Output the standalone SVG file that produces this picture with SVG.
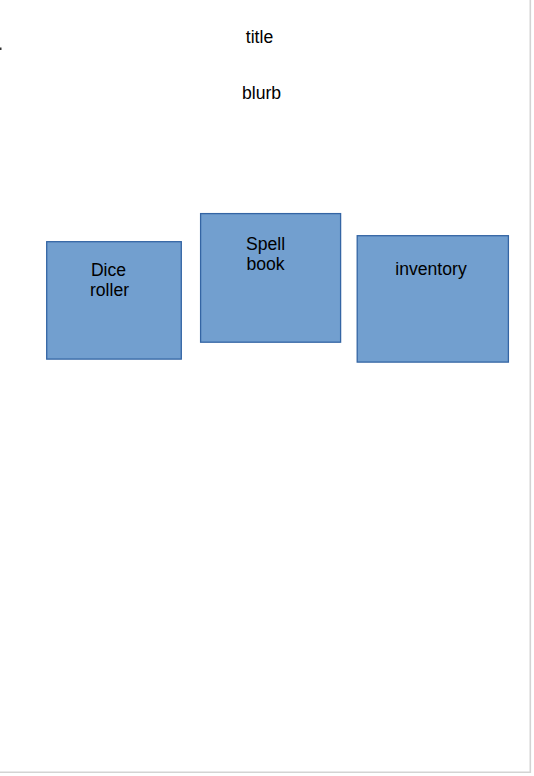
<svg xmlns="http://www.w3.org/2000/svg" width="534" height="776" viewBox="0 0 534 776">
<style>
.box{fill:#729fcf;stroke:#3465a4;stroke-width:1.3}
.t{font-family:"Liberation Sans",Arial,sans-serif;font-size:17.6px;fill:#000;text-anchor:middle}
</style>
<rect x="0" y="0" width="534" height="776" fill="#ffffff"/>
<path d="M530.3 0 V772.3 H0" fill="none" stroke="#d3d3d3" stroke-width="1.6"/>
<rect x="0" y="47.5" width="1.5" height="2.5" fill="#333"/>
<text class="t" x="259.5" y="42.5">title</text>
<text class="t" x="261.5" y="98.5">blurb</text>
<g id="connectors"></g>
<g id="dice-roller">
<rect class="box" x="46.7" y="241.7" width="134.6" height="117.4"/>
<text class="t" x="108.5" y="275.5">Dice</text>
<text class="t" x="109.5" y="295.5">roller</text>
</g>
<g id="spell-book">
<rect class="box" x="200.6" y="213.6" width="140" height="128.6"/>
<text class="t" x="265.5" y="249.5">Spell</text>
<text class="t" x="265.5" y="269.5">book</text>
</g>
<g id="inventory">
<rect class="box" x="357.2" y="235.7" width="151.2" height="126.4"/>
<text class="t" x="431" y="274.5">inventory</text>
</g>
</svg>
